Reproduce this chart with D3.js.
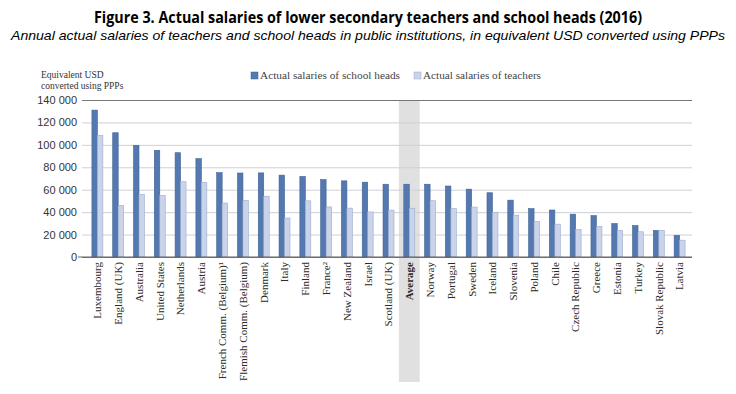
<!DOCTYPE html>
<html>
<head>
<meta charset="utf-8">
<script src="https://cdn.jsdelivr.net/npm/d3@7"></script>
<style>
  body { margin: 0; background: #fff; }
  svg { display: block; }
</style>
</head>
<body>
<svg></svg>
<script>
const countries = ["Luxembourg", "England (UK)", "Australia", "United States", "Netherlands", "Austria",
  "French Comm. (Belgium)¹", "Flemish Comm. (Belgium)", "Denmark", "Italy", "Finland", "France²",
  "New Zealand", "Israel", "Scotland (UK)", "Average", "Norway", "Portugal", "Sweden", "Iceland",
  "Slovenia", "Poland", "Chile", "Czech Republic", "Greece", "Estonia", "Turkey", "Slovak Republic", "Latvia"];

const heads = [131000, 110800, 99600, 95100, 93000, 87700, 75200, 74900, 75000, 73000, 71800, 69000,
  67900, 66700, 64900, 64900, 64900, 63300, 60500, 57300, 50700, 43100, 41900, 38200, 36900, 29800,
  28000, 23700, 19300];

const teachers = [108500, 46100, 55900, 54700, 67100, 66600, 48100, 50500, 54200, 34800, 50100, 44700,
  43600, 40200, 41800, 43500, 50200, 43200, 44500, 39900, 37300, 31800, 29300, 24500, 27200, 23700,
  22500, 23800, 15000];

const yTicks = [0, 20000, 40000, 60000, 80000, 100000, 120000, 140000];

const seriesNames = ["Actual salaries of school heads", "Actual salaries of teachers"];

const width = 736;
const height = 394;
const plotLeft = 82;
const plotRight = 692;
const plotTop = 100;
const plotBottom = 257;

const svg = d3.select("svg").attr("width", width).attr("height", height);

const values = countries.map((c, i) => ({ country: c, heads: heads[i], teachers: teachers[i] }));

const xScale = d3.scaleBand()
  .domain(countries)
  .range([87, 690]);

const x1 = d3.scaleBand()
  .domain(["heads", "teachers"])
  .range([0, xScale.bandwidth()])
  .paddingOuter(0.9);

const yScale = d3.scaleLinear()
  .domain([0, 140000])
  .range([plotBottom, plotTop]);

// title
svg.append("text")
  .attr("x", 368).attr("y", 23)
  .attr("text-anchor", "middle")
  .attr("font-family", "Open Sans, sans-serif")
  .attr("font-weight", "bold")
  .attr("font-size", 15.5)
  .attr("textLength", 548)
  .attr("lengthAdjust", "spacingAndGlyphs")
  .text("Figure 3. Actual salaries of lower secondary teachers and school heads (2016)");

svg.append("text")
  .attr("x", 368).attr("y", 40)
  .attr("text-anchor", "middle")
  .attr("font-family", "Liberation Sans, Arial, sans-serif")
  .attr("font-style", "italic")
  .attr("font-size", 13.5)
  .attr("textLength", 714)
  .attr("lengthAdjust", "spacingAndGlyphs")
  .text("Annual actual salaries of teachers and school heads in public institutions, in equivalent USD converted using PPPs");

// average highlight
svg.append("rect")
  .attr("x", xScale("Average"))
  .attr("y", plotTop)
  .attr("width", xScale.bandwidth())
  .attr("height", 382 - plotTop)
  .attr("fill", "#e0e0e0");

// y axis with gridlines
const yAxis = d3.axisLeft(yScale)
  .tickValues(yTicks)
  .tickSize(-(plotRight - plotLeft))
  .tickPadding(5)
  .tickFormat(d => d3.format(",")(d).replace(",", " "));

const gy = svg.append("g")
  .attr("transform", "translate(" + plotLeft + ",0)")
  .call(yAxis);
gy.select(".domain").remove();
gy.selectAll(".tick line")
  .attr("stroke", d => (d === 0 || d === 140000) ? "#777" : "#cfcfd8")
  .attr("stroke-width", d => (d === 0 || d === 140000) ? 1.2 : 1);
gy.selectAll(".tick text")
  .attr("font-family", "Liberation Sans, Arial, sans-serif")
  .attr("font-size", 11)
  .attr("fill", "#333");

svg.append("text")
  .attr("x", 41).attr("y", 78)
  .attr("font-family", "Liberation Serif, serif")
  .attr("font-size", 9.5)
  .attr("fill", "#333")
  .text("Equivalent USD");
svg.append("text")
  .attr("x", 41).attr("y", 89)
  .attr("font-family", "Liberation Serif, serif")
  .attr("font-size", 9.5)
  .attr("fill", "#333")
  .text("converted using PPPs");

// bars
const groups = svg.append("g")
  .selectAll("g")
  .data(values)
  .enter()
  .append("g")
  .attr("transform", d => "translate(" + xScale(d.country) + ",0)");

groups.append("rect")
  .attr("x", x1("heads"))
  .attr("y", d => yScale(d.heads))
  .attr("width", x1.bandwidth())
  .attr("height", d => plotBottom - yScale(d.heads))
  .attr("fill", "#5479b0")
  .attr("stroke", "#3f6296")
  .attr("stroke-width", 0.6);

groups.append("rect")
  .attr("x", x1("teachers"))
  .attr("y", d => yScale(d.teachers))
  .attr("width", x1.bandwidth())
  .attr("height", d => plotBottom - yScale(d.teachers))
  .attr("fill", "#c9d3ea")
  .attr("stroke", "#9dabcc")
  .attr("stroke-width", 0.6);

// redraw baseline on top
svg.append("line")
  .attr("x1", plotLeft - 4).attr("x2", plotRight)
  .attr("y1", plotBottom).attr("y2", plotBottom)
  .attr("stroke", "#666").attr("stroke-width", 1.2);

// category labels
const xAxis = d3.axisBottom(xScale).tickSize(0).tickPadding(0);
const gx = svg.append("g")
  .attr("transform", "translate(0," + plotBottom + ")")
  .call(xAxis);
gx.select(".domain").remove();
gx.selectAll(".tick text")
  .attr("transform", "rotate(-90)")
  .attr("x", -5)
  .attr("y", 0)
  .attr("dy", "0.35em")
  .attr("text-anchor", "end")
  .attr("font-family", "Liberation Serif, serif")
  .attr("font-size", 11)
  .attr("fill", "#2a2a2a")
  .attr("font-weight", d => d === "Average" ? "bold" : "normal");

// legend
const legend = svg.append("g");
const legendX = [251, 414];
const legendLen = [140, 118];
const legendColors = [["#5479b0", "#3f6296"], ["#c9d3ea", "#9dabcc"]];
seriesNames.forEach((name, i) => {
  legend.append("rect")
    .attr("x", legendX[i]).attr("y", 72)
    .attr("width", 7).attr("height", 7)
    .attr("fill", legendColors[i][0])
    .attr("stroke", legendColors[i][1])
    .attr("stroke-width", 0.5);
  legend.append("text")
    .attr("x", legendX[i] + 9).attr("y", 79)
    .attr("font-family", "Liberation Serif, serif")
    .attr("font-size", 10.5)
    .attr("fill", "#444")
    .attr("textLength", legendLen[i])
    .attr("lengthAdjust", "spacingAndGlyphs")
    .text(name);
});
</script>
</body>
</html>
